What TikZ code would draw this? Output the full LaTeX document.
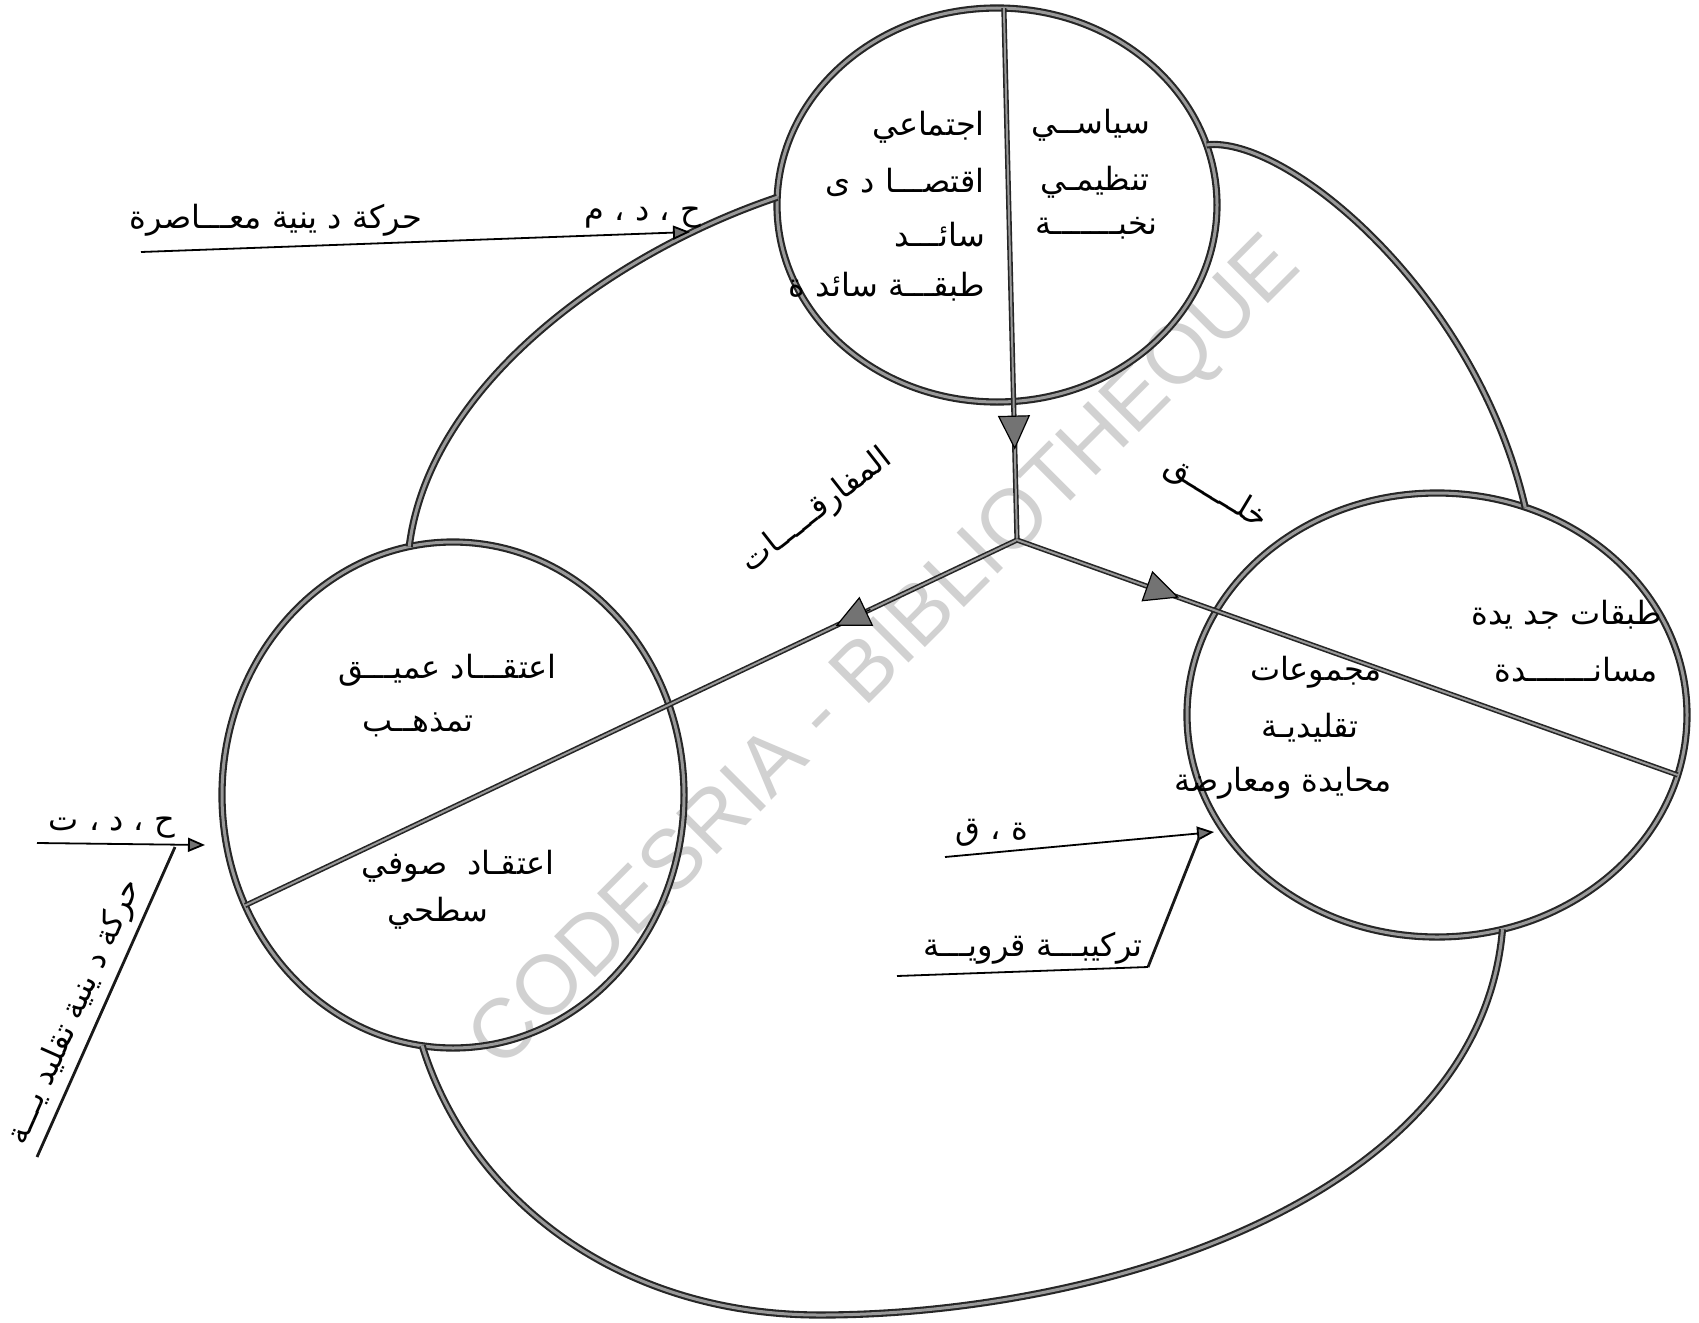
\documentclass[tikz,border=0pt]{standalone}
\usepackage{fontspec}
\newfontfamily\arabicfont[Script=Arabic]{DejaVu Sans}
\newfontfamily\wmfont{Liberation Sans}
\TeXXeTstate=1
\usetikzlibrary{shapes.geometric,arrows.meta,calc}
\newcommand{\AR}[1]{\beginR #1\endR}
\begin{document}
\begin{tikzpicture}[x=1pt,y=-1pt,
  band/.style={draw=black!85, line width=2.1pt, double=black!40, double distance=3pt},
  thinband/.style={draw=black!85, line width=1.6pt, double=black!40, double distance=2pt},
  circ/.style={ellipse, band, inner sep=0pt, outer sep=0pt},
  ar/.style={font=\arabicfont\fontsize{32}{36}\selectfont, inner sep=0pt},
  uline/.style={draw=black, line width=1.8pt},
  lead/.style={draw=black!90, line width=2.8pt},
  smalltip/.style={-{Triangle[length=17pt,width=14pt,fill=black!55]}},
  bigtip/.style={draw=black, line width=1.2pt, -{Triangle[length=34pt,width=32pt,fill=black!55]}}
]
\fill[white] (0,0) rectangle (1699,1322);
\useasboundingbox (0,0) rectangle (1699,1322);

% watermark
\node[font=\wmfont\fontsize{84}{84}\selectfont, text=black!18, rotate=45] (wm) at (887,655) {CODESRIA - BIBLIOTHEQUE};

% circles
\node[circ, minimum width=440pt, minimum height=394pt] (cTop) at (997,205) {};
\node[circ, minimum width=462pt, minimum height=506pt] (cLeft) at (453,795) {};
\node[circ, minimum width=500pt, minimum height=444pt] (cRight) at (1437,715) {};

% outer loops
\draw[band] (cTop.178) .. controls (620,250) and (430,380) .. (cLeft.100);
\draw[band] (cTop.16) .. controls (1285,135) and (1475,290) .. (cRight.67);
\draw[band] (cLeft.263) .. controls (470,1200) and (620,1315) .. (820,1315)
   .. controls (1100,1315) and (1480,1200) .. (cRight.287);

% inner lines
\coordinate (J) at (1017,540);
\draw[thinband] (cTop.88) -- (J);
\draw[thinband] (J) -- (cLeft.208);
\draw[thinband] (J) -- (cRight.346);
\draw[bigtip] ($(cTop.88)!0.78!(J)$) -- ($(cTop.88)!0.83!(J)$);
\draw[bigtip] ($(J)!0.19!(cLeft.208)$) -- ($(J)!0.235!(cLeft.208)$);
\draw[bigtip] ($(J)!0.20!(cRight.346)$) -- ($(J)!0.245!(cRight.346)$);

% top circle texts
\node[ar, anchor=east] (t1) at (985,127) {\AR{اجتماعي}};
\node[ar, anchor=east] (t2) at (985,182) {\AR{اقتصـــا د ى}};
\node[ar, anchor=east] (t3) at (985,235) {\AR{سائـــد}};
\node[ar, anchor=east] (t4) at (985,287) {\AR{طبقـــة سائد ة}};
\node[ar, anchor=east] (t5) at (1150,125) {\AR{سياســي}};
\node[ar, anchor=east] (t6) at (1150,182) {\AR{تنظيمـي}};
\node[ar, anchor=east] (t7) at (1158,228) {\AR{نخبـــــــة}};

% left circle texts
\node[ar, anchor=east] (l1) at (557,670) {\AR{اعتقـــاد عميـــق}};
\node[ar] (l2) at (418,725) {\AR{تمذهــب}};
\node[ar, anchor=east] (l3) at (555,866) {\AR{اعتقـاد \ صوفي}};
\node[ar] (l4) at (438,913) {\AR{سطحي}};

% right circle texts
\node[ar, anchor=east] (r1) at (1662,615) {\AR{طبقات جد يدة}};
\node[ar, anchor=east] (r2) at (1658,670) {\AR{مسانـــــــدة}};
\node[ar, anchor=east] (r3) at (1382,672) {\AR{مجموعات}};
\node[ar] (r4) at (1310,728) {\AR{تقليديـة}};
\node[ar, anchor=east] (r5) at (1392,783) {\AR{محايدة ومعارضة}};

% central labels
\node[ar, rotate=38] (m1) at (817,511) {\AR{المفارقـــــات}};
\node[ar, rotate=-31] (m2) at (1216,493) {\AR{خلــــــق}};

% top-left label
\node[ar] (a1) at (276,220) {\AR{حركة د ينية معـــاصرة}};
\node[ar] (a2) at (643,218) {\AR{ح ، د ، م}};
\coordinate (a3) at (141,252);
\coordinate (a4) at (690,232);
\draw[uline, smalltip] (a3) -- (a4);

% left label
\node[ar] (b1) at (112,828) {\AR{ح ، د ، ت}};
\coordinate (b2) at (37,843);
\coordinate (b3) at (205,845);
\coordinate (b4) at (175,847);
\coordinate (b5) at (37,1157);
\draw[uline, smalltip] (b2) -- (b3);
\draw[lead] (b4) -- (b5);
\node[ar, rotate=66] (b6) at (75,1012) {\AR{حركة د ينية تقليد يـــة}};

% bottom label
\node[ar] (c1) at (992,833) {\AR{ة ، ق}};
\node[ar] (c2) at (1033,948) {\AR{تركيبـــة قرويـــة}};
\coordinate (c3) at (945,857);
\coordinate (c4) at (1214,832);
\coordinate (c5) at (1199,838);
\coordinate (c6) at (1148,967);
\coordinate (c7) at (897,976);
\draw[uline, smalltip] (c3) -- (c4);
\draw[lead] (c5) -- (c6);
\draw[uline] (c7) -- (c6);
\end{tikzpicture}
\end{document}
